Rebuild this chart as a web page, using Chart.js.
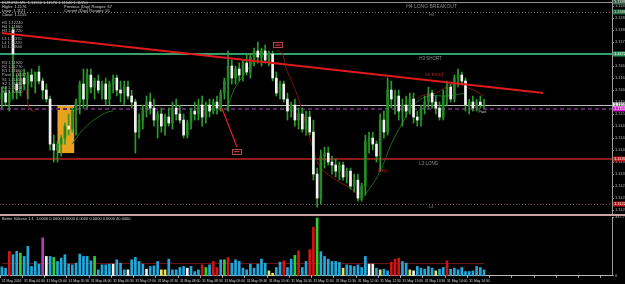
<!DOCTYPE html>
<html>
<head>
<meta charset="utf-8">
<title>EURUSD,M5</title>
<script src="https://cdn.jsdelivr.net/npm/chart.js@4.4.1/dist/chart.umd.min.js"></script>
<style>
  html, body { margin: 0; padding: 0; background: #000; }
  #wrap { position: relative; width: 625px; height: 284px; overflow: hidden; background: #000; }
  canvas { position: absolute; left: 0; }
  #priceChart { top: 0; }
  #volumeChart { top: 214px; }
</style>
</head>
<body>
<div id="wrap">
  <canvas id="priceChart" width="625" height="214"></canvas>
  <canvas id="volumeChart" width="625" height="70"></canvas>
</div>
<script>
/**
 * EURUSD M5 - candles, pivot levels and Better Volume
 */

// Candles (31 May 2016, M5)
const opens = [
  1.1157, 1.1159, 1.1156, 1.1180, 1.1162, 1.1160, 1.1164, 1.1162, 1.1165, 1.1163,
  1.1166, 1.1163, 1.1160, 1.1157, 1.1142, 1.1140, 1.1142, 1.1144, 1.1148, 1.1147,
  1.1153, 1.1156, 1.1162, 1.1157, 1.1165, 1.1161, 1.1163, 1.1160, 1.1162, 1.1157,
  1.1162, 1.1164, 1.1160, 1.1159, 1.1161, 1.1158, 1.1156, 1.1146, 1.1150, 1.1153,
  1.1156, 1.1154, 1.1150, 1.1152, 1.1148, 1.1151, 1.1149, 1.1154, 1.1152, 1.1150,
  1.1145, 1.1149, 1.1153, 1.1152, 1.1155, 1.1151, 1.1155, 1.1153, 1.1156, 1.1154,
  1.1159, 1.1163, 1.1168, 1.1164, 1.1167, 1.1165, 1.1169, 1.1166, 1.1171, 1.1173,
  1.1171, 1.1173, 1.1170, 1.1172, 1.1164, 1.1159, 1.1162, 1.1157, 1.1153, 1.1155,
  1.1150, 1.1152, 1.1147, 1.1151, 1.1146, 1.1132, 1.1124, 1.1138, 1.1139, 1.1136,
  1.1135, 1.1133, 1.1135, 1.1131, 1.1133, 1.1128, 1.1130, 1.1124, 1.1128, 1.1143,
  1.1144, 1.1142, 1.1138, 1.1150, 1.1146, 1.1160, 1.1157, 1.1158, 1.1153, 1.1155,
  1.1153, 1.1157, 1.1151, 1.1150, 1.1154, 1.1156, 1.1159, 1.1156, 1.1154, 1.1151,
  1.1158, 1.1161, 1.1157, 1.1164, 1.1165, 1.1163, 1.1155, 1.1156, 1.1154, 1.1156, 1.1155
];
const highs = [
  1.1161, 1.1161, 1.1160, 1.1181, 1.1165, 1.1166, 1.1167, 1.1166, 1.1167, 1.1166,
  1.1168, 1.1164, 1.1162, 1.1158, 1.1145, 1.1143, 1.1145, 1.1149, 1.1152, 1.1154,
  1.1157, 1.1163, 1.1167, 1.1167, 1.1167, 1.1164, 1.1165, 1.1163, 1.1164, 1.1163,
  1.1165, 1.1165, 1.1163, 1.1163, 1.1163, 1.1160, 1.1157, 1.1152, 1.1155, 1.1158,
  1.1159, 1.1157, 1.1153, 1.1154, 1.1152, 1.1154, 1.1156, 1.1157, 1.1155, 1.1152,
  1.1150, 1.1154, 1.1156, 1.1157, 1.1158, 1.1156, 1.1157, 1.1157, 1.1158, 1.1160,
  1.1164, 1.1173, 1.1170, 1.1168, 1.1169, 1.1170, 1.1172, 1.1172, 1.1174, 1.1176,
  1.1174, 1.1175, 1.1173, 1.1173, 1.1166, 1.1163, 1.1163, 1.1159, 1.1156, 1.1157,
  1.1154, 1.1154, 1.1153, 1.1153, 1.1150, 1.1134, 1.1140, 1.1141, 1.1141, 1.1138,
  1.1137, 1.1136, 1.1136, 1.1134, 1.1134, 1.1132, 1.1132, 1.1129, 1.1145, 1.1146,
  1.1146, 1.1143, 1.1152, 1.1153, 1.1164, 1.1163, 1.1160, 1.1160, 1.1157, 1.1158,
  1.1159, 1.1159, 1.1153, 1.1155, 1.1158, 1.1161, 1.1160, 1.1158, 1.1156, 1.1160,
  1.1163, 1.1162, 1.1165, 1.1167, 1.1166, 1.1164, 1.1157, 1.1158, 1.1157, 1.1158, 1.1157
];
const lows = [
  1.1154, 1.1155, 1.1153, 1.1157, 1.1157, 1.1158, 1.1160, 1.1157, 1.1161, 1.1159,
  1.1162, 1.1157, 1.1156, 1.1140, 1.1136, 1.1136, 1.1138, 1.1142, 1.1145, 1.1146,
  1.1145, 1.1152, 1.1154, 1.1154, 1.1159, 1.1157, 1.1159, 1.1157, 1.1155, 1.1155,
  1.1159, 1.1158, 1.1156, 1.1155, 1.1157, 1.1154, 1.1139, 1.1144, 1.1147, 1.1151,
  1.1152, 1.1148, 1.1144, 1.1146, 1.1145, 1.1148, 1.1147, 1.1150, 1.1149, 1.1144,
  1.1144, 1.1147, 1.1150, 1.1150, 1.1148, 1.1149, 1.1151, 1.1152, 1.1152, 1.1153,
  1.1157, 1.1153, 1.1162, 1.1162, 1.1163, 1.1163, 1.1165, 1.1164, 1.1168, 1.1169,
  1.1168, 1.1169, 1.1168, 1.1163, 1.1158, 1.1157, 1.1156, 1.1150, 1.1151, 1.1148,
  1.1147, 1.1146, 1.1145, 1.1145, 1.1130, 1.1121, 1.1122, 1.1134, 1.1135, 1.1132,
  1.1131, 1.1130, 1.1130, 1.1129, 1.1127, 1.1126, 1.1123, 1.1123, 1.1125, 1.1139,
  1.1140, 1.1136, 1.1133, 1.1144, 1.1145, 1.1154, 1.1152, 1.1150, 1.1148, 1.1151,
  1.1152, 1.1149, 1.1148, 1.1148, 1.1152, 1.1154, 1.1154, 1.1152, 1.1150, 1.1150,
  1.1155, 1.1156, 1.1156, 1.1161, 1.1162, 1.1153, 1.1152, 1.1153, 1.1153, 1.1154, 1.1154
];
const closes = [
  1.1159, 1.1156, 1.1159, 1.1172, 1.1160, 1.1164, 1.1162, 1.1165, 1.1163, 1.1166,
  1.1163, 1.1160, 1.1157, 1.1142, 1.1140, 1.1142, 1.1144, 1.1148, 1.1147, 1.1153,
  1.1156, 1.1162, 1.1157, 1.1165, 1.1161, 1.1163, 1.1160, 1.1162, 1.1157, 1.1162,
  1.1164, 1.1160, 1.1159, 1.1161, 1.1158, 1.1156, 1.1146, 1.1150, 1.1153, 1.1156,
  1.1154, 1.1150, 1.1152, 1.1148, 1.1151, 1.1149, 1.1154, 1.1152, 1.1150, 1.1145,
  1.1149, 1.1153, 1.1152, 1.1155, 1.1151, 1.1155, 1.1153, 1.1156, 1.1154, 1.1159,
  1.1163, 1.1168, 1.1164, 1.1167, 1.1165, 1.1169, 1.1166, 1.1171, 1.1173, 1.1171,
  1.1173, 1.1170, 1.1172, 1.1164, 1.1159, 1.1162, 1.1157, 1.1153, 1.1155, 1.1150,
  1.1152, 1.1147, 1.1151, 1.1146, 1.1132, 1.1124, 1.1138, 1.1139, 1.1136, 1.1135,
  1.1133, 1.1135, 1.1131, 1.1133, 1.1128, 1.1130, 1.1124, 1.1128, 1.1143, 1.1144,
  1.1142, 1.1138, 1.1150, 1.1146, 1.1160, 1.1157, 1.1158, 1.1153, 1.1155, 1.1153,
  1.1157, 1.1151, 1.1150, 1.1154, 1.1156, 1.1159, 1.1156, 1.1154, 1.1151, 1.1158,
  1.1161, 1.1157, 1.1164, 1.1165, 1.1163, 1.1155, 1.1156, 1.1154, 1.1156, 1.1155, 1.1155
];

// Better Volume bars and their colour class (b blue, r red, g green, w white, y yellow, m magenta)
const volumes = [
  54, 46, 146, 126, 146, 136, 116, 176, 56, 86,
  70, 226, 116, 116, 110, 86, 106, 126, 70, 66,
  76, 130, 116, 116, 90, 116, 36, 66, 66, 70,
  70, 96, 76, 36, 36, 96, 110, 86, 70, 40,
  56, 60, 86, 36, 36, 100, 36, 36, 50, 56,
  46, 56, 26, 36, 66, 50, 66, 86, 50, 96,
  96, 110, 76, 96, 86, 46, 36, 70, 46, 70,
  100, 76, 30, 16, 50, 82, 90, 50, 100, 122,
  150, 50, 86, 156, 290, 344, 144, 116, 100, 86,
  86, 80, 46, 66, 62, 56, 66, 50, 116, 70,
  70, 46, 36, 40, 30, 82, 100, 106, 86, 76,
  36, 30, 56, 46, 40, 56, 46, 30, 40, 50,
  90, 40, 46, 36, 50, 26, 26, 30, 56, 50, 36
];
const volumeKinds = ('bbrbbgbbbb bmwbgbbbbb bbbbbgbbbb wbbbwbbbbw bbbyybbbbb wbbbrgbrrb ' +
  'grbbbbbbbb bbyybbrbbg rbbrrgbbbb bbybbbbbbw wbybbrrrbb ywbbbbbybb rbbbbbbbbb b')
  .replace(/ /g, '').split('');
const volumeAverage = 78;
const volumeScaleTop = 347.75;

// Time axis, one label every 6 bars
const timeLabels = [
  '31 May 2016', '31 May 04:30', '31 May 05:00', '31 May 05:30', '31 May 06:00', '31 May 06:30',
  '31 May 07:00', '31 May 07:30', '31 May 08:00', '31 May 08:30', '31 May 09:00', '31 May 09:30',
  '31 May 10:00', '31 May 10:30', '31 May 11:00', '31 May 11:30', '31 May 12:00', '31 May 12:30',
  '31 May 13:00', '31 May 13:30', '31 May 14:00', '31 May 14:30'
];
const LABEL_EVERY = 6;
const SLOT_COUNT = 165;   // bar slots in the window, incl. the empty right margin

// Daily levels
const levelTop = 1.11893;
const levelH4 = 1.1186;
const levelH3 = 1.1172;
const levelPivot = 1.11537;
const levelL3 = 1.1137;
const levelL4 = 1.1122;

// Drawn objects (bar index, price)
const trendLine = [{ x: 0, y: 1.1179 }, { x: 146, y: 1.1159 }];
const maRed = [
  { x: 3, y: 1.1168 }, { x: 6, y: 1.1162 }, { x: 9, y: 1.1153 },
  { x: 74, y: 1.1173 }, { x: 77, y: 1.1166 }, { x: 80, y: 1.1157 }, { x: 84, y: 1.1140 },
  { x: 86, y: 1.1134 }, { x: 89, y: 1.1131 }, { x: 93, y: 1.1128 }, { x: 97, y: 1.1126 },
  { x: 112, y: 1.1157 }, { x: 117, y: 1.1159 }, { x: 122, y: 1.1162 }, { x: 127, y: 1.1160 }, { x: 130, y: 1.1158 }
];
const maGreen = [
  { x: 19, y: 1.1142 }, { x: 22, y: 1.1147 }, { x: 26, y: 1.1151 }, { x: 30, y: 1.1153 },
  { x: 59, y: 1.1153 }, { x: 63, y: 1.1161 }, { x: 67, y: 1.1168 }, { x: 71, y: 1.1173 },
  { x: 96, y: 1.1124 }, { x: 99, y: 1.1127 }, { x: 102, y: 1.1133 }, { x: 105, y: 1.1142 },
  { x: 108, y: 1.1149 }, { x: 111, y: 1.1155 }, { x: 115, y: 1.1158 }, { x: 120, y: 1.1158 }, { x: 125, y: 1.1159 }
];
const breakoutBox = { from: 15, to: 19, top: 1.1155, bottom: 1.1139 };
const signalLine = { from: { x: 59.3, y: 1.1154 }, to: { x: 63.4, y: 1.1141 } };
const signalBoxes = [{ x: 74.4, y: 1.1175 }, { x: 63.4, y: 1.11395 }];

const COLORS = {
  bull: '#238a23',
  bear: '#f2f2f2',
  wick: '#2c9c2c',
  trend: '#e01a1a',
  maRed: '#7a1616',
  maGreen: '#1c6a1c',
  box: '#e8a21e',
  text: '#bdbdbd',
  vol: { b: '#22a9dc', r: '#d41414', g: '#2fcf2f', w: '#f4f4f4', y: '#e6e05a', m: '#b63ab6' }
};
const FONT = '"Liberation Sans", Arial, sans-serif';
Chart.defaults.font.family = FONT;

const slots = Array.from({ length: SLOT_COUNT }, (_, i) => i);
const lastClose = closes[closes.length - 1];

function text(ctx, str, x, y, size, color, baseline) {
    ctx.font = size + 'px ' + FONT;
    ctx.fillStyle = color;
    ctx.textBaseline = baseline || 'top';
    ctx.textAlign = 'left';
    ctx.fillText(str, x, y);
}

function hLine(ctx, a, y, color, width, dash) {
    ctx.save();
    ctx.strokeStyle = color;
    ctx.lineWidth = width;
    ctx.setLineDash(dash || []);
    ctx.beginPath();
    const yy = width % 2 ? Math.round(y) + 0.5 : Math.round(y);
    ctx.moveTo(a.left, yy);
    ctx.lineTo(a.right, yy);
    ctx.stroke();
    ctx.restore();
}

const priceOverlay = {
    id: 'priceOverlay',
    beforeDatasetsDraw(chart) {
        const { ctx, chartArea: a, scales: { x, y } } = chart;
        const half = (x.getPixelForValue(1) - x.getPixelForValue(0)) / 2;
        ctx.save();
        ctx.fillStyle = COLORS.box;
        const bx = x.getPixelForValue(breakoutBox.from);
        const by = y.getPixelForValue(breakoutBox.top);
        ctx.fillRect(bx, by, x.getPixelForValue(breakoutBox.to) + half - bx, y.getPixelForValue(breakoutBox.bottom) - by);
        ctx.restore();

        hLine(ctx, a, y.getPixelForValue(levelTop), '#8f8f8f', 1);
        hLine(ctx, a, y.getPixelForValue(levelH4), '#7a7a7a', 1, [1, 2]);
        hLine(ctx, a, y.getPixelForValue(levelH3), '#34a36b', 2);
        hLine(ctx, a, y.getPixelForValue(lastClose), '#bdbdbd', 1);
        hLine(ctx, a, y.getPixelForValue(levelPivot), '#5e2468', 2, [4, 3]);
        hLine(ctx, a, y.getPixelForValue(levelL3), '#8c1a1a', 2);
        hLine(ctx, a, y.getPixelForValue(levelL4), '#7a5656', 1, [1, 2]);
    },
    afterDatasetsDraw(chart) {
        const { ctx, scales: { x, y } } = chart;
        ctx.save();

        // info block, top left
        text(ctx, 'EURUSD,M5  1.11550 1.11570 1.11540 1.11550', 2, 1, 4, '#cfcfcf');
        text(ctx, 'Highs: 1.1176', 2, 5, 4, '#cfcfcf');
        text(ctx, 'Previous (Day) Ranges: 67', 64, 5, 4, '#cfcfcf');
        text(ctx, 'Lows: 1.1121', 2, 9, 4, '#cfcfcf');
        text(ctx, 'Current (Day) Ranges: 55', 64, 9, 4, '#cfcfcf');
        text(ctx, 'Close: 1.1155', 2, 13, 4, '#cfcfcf');
        const camarilla = [['H5 1.12240', 21], ['H4 1.11860', 25], ['H3 1.11720', 29],
                           ['L3 1.11370', 37], ['L4 1.11220', 41], ['L5 1.10840', 45]];
        camarilla.forEach(([s, yy]) => text(ctx, s, 2, yy, 4, '#b8b8b8'));
        const pivots = [['R3 1.11920', 61], ['R2 1.11770', 65], ['R1 1.11660', 69], ['Pivot 1.11537', 73],
                        ['S1 1.11410', 78], ['S2 1.11300', 82], ['S3 1.11150', 86], ['S4 1.10900', 90]];
        pivots.forEach(([s, yy]) => text(ctx, s, 2, yy, 4, '#b8b8b8'));

        // level captions
        text(ctx, 'H4 LONG BREAKOUT', x.getPixelForValue(109), y.getPixelForValue(levelH4) - 3, 5, '#8c8c8c', 'bottom');
        text(ctx, ':H4', x.getPixelForValue(115), y.getPixelForValue(levelH4) + 1, 3.5, '#8c8c8c');
        text(ctx, 'H3 SHORT', x.getPixelForValue(112.5), y.getPixelForValue(levelH3) + 2, 4.5, '#8c8c8c');
        text(ctx, 'no trend', x.getPixelForValue(114), y.getPixelForValue(1.1165), 5, '#b42020', 'middle');
        text(ctx, 'L3 LONG', x.getPixelForValue(112.5), y.getPixelForValue(levelL3) + 2, 4.5, '#8c8c8c');
        text(ctx, ':L4', x.getPixelForValue(115), y.getPixelForValue(levelL4) + 1, 3.5, '#8c8c8c');
        text(ctx, 'Pivot', x.getPixelForValue(128.5), y.getPixelForValue(levelPivot) + 1, 3.5, '#c8c8c8');
        text(ctx, 'long', x.getPixelForValue(101.5), y.getPixelForValue(1.1133), 4.5, '#c42424', 'middle');

        // signal arrow and boxes
        ctx.strokeStyle = '#e02020';
        ctx.lineWidth = 1.2;
        ctx.beginPath();
        ctx.moveTo(x.getPixelForValue(signalLine.from.x), y.getPixelForValue(signalLine.from.y));
        ctx.lineTo(x.getPixelForValue(signalLine.to.x), y.getPixelForValue(signalLine.to.y));
        ctx.stroke();
        signalBoxes.forEach(b => {
            const cx = x.getPixelForValue(b.x), cy = y.getPixelForValue(b.y);
            ctx.fillStyle = '#1c0606';
            ctx.fillRect(cx - 5, cy - 3, 10, 6);
            ctx.strokeStyle = '#b04848';
            ctx.lineWidth = 1;
            ctx.strokeRect(Math.round(cx - 5) + 0.5, Math.round(cy - 3) + 0.5, 9, 5);
            ctx.fillStyle = '#d04040';
            ctx.fillRect(cx - 2.5, cy - 0.5, 5, 1);
        });
        ctx.restore();
    },
    afterDraw(chart) {
        const { ctx, chartArea: a, scales: { y } } = chart;
        const tags = [
            { p: levelTop, bg: '#3a5e48', fg: '#e0e0e0' },
            { p: levelH4, bg: '#1f6a3c', fg: '#e0e0e0' },
            { p: levelH3, bg: '#2f9a5e', fg: '#ffffff' },
            { p: lastClose, bg: '#e8e8e8', fg: '#000000' },
            { p: levelPivot, bg: '#d21ed2', fg: '#ffffff' },
            { p: levelL3, bg: '#c41a1a', fg: '#ffffff' },
            { p: levelL4, bg: '#b81818', fg: '#ffffff' }
        ];
        ctx.save();
        tags.forEach(t => {
            const cy = y.getPixelForValue(t.p);
            ctx.fillStyle = t.bg;
            ctx.fillRect(a.right + 1, cy - 2.5, chart.width - a.right, 5);
            text(ctx, t.p.toFixed(5), a.right + 2, cy, 4, t.fg, 'middle');
        });
        ctx.restore();
    }
};

const volumeOverlay = {
    id: 'volumeOverlay',
    beforeDatasetsDraw(chart) {
        const { ctx, scales: { x, y } } = chart;
        ctx.save();
        ctx.strokeStyle = '#6a1616';
        ctx.lineWidth = 1;
        const yy = Math.round(y.getPixelForValue(volumeAverage)) + 0.5;
        ctx.beginPath();
        ctx.moveTo(x.getPixelForValue(0), yy);
        ctx.lineTo(x.getPixelForValue(volumes.length - 1), yy);
        ctx.stroke();
        ctx.restore();
    },
    afterDraw(chart) {
        const { ctx } = chart;
        ctx.save();
        ctx.fillStyle = '#c9a3a3';
        ctx.fillRect(0, 0, chart.width, 2);
        text(ctx, 'Better Volume 1.1  1.0000 0.0000 0.0000 0.0000 0.0000 0.0000 40.0000', 2, 3, 4, '#cfcfcf');
        ctx.restore();
    }
};

function fixWidth(scale) {
    scale.width = 13;
    scale.paddingTop = 0;
    scale.paddingBottom = 0;
}

function createPriceChart() {
    const el = document.getElementById('priceChart');
    return new Chart(el, {
        type: 'bar',
        data: {
            labels: slots,
            datasets: [
                { type: 'line', data: trendLine, borderColor: COLORS.trend, borderWidth: 2, pointRadius: 0, spanGaps: true, order: 0 },
                { data: opens.map((o, i) => [o, closes[i]]), backgroundColor: opens.map((o, i) => closes[i] >= o ? COLORS.bull : COLORS.bear),
                  barThickness: 2, minBarLength: 1, grouped: false, order: 1 },
                { data: lows.map((l, i) => [l, highs[i]]), backgroundColor: COLORS.wick, barThickness: 1, grouped: false, order: 2 },
                { type: 'line', data: maRed, borderColor: COLORS.maRed, borderWidth: 1, pointRadius: 0, spanGaps: 6, tension: 0.4, order: 3 },
                { type: 'line', data: maGreen, borderColor: COLORS.maGreen, borderWidth: 1, pointRadius: 0, spanGaps: 6, tension: 0.4, order: 3 }
            ]
        },
        options: {
            responsive: false,
            animation: false,
            events: [],
            layout: { padding: 0 },
            plugins: { legend: { display: false }, tooltip: { enabled: false } },
            scales: {
                x: { display: false, offset: true },
                y: {
                    position: 'right',
                    min: 1.11187,
                    max: 1.1190,
                    afterFit: fixWidth,
                    grid: { drawOnChartArea: false, tickLength: 2, color: '#8a8a8a' },
                    border: { display: true, color: '#9a9a9a', dash: [1, 1] },
                    ticks: { stepSize: 0.0004, includeBounds: false, padding: 1, color: '#bcbcbc', font: { size: 4 },
                             callback: v => v.toFixed(5) }
                }
            }
        },
        plugins: [priceOverlay]
    });
}

function createVolumeChart() {
    const el = document.getElementById('volumeChart');
    return new Chart(el, {
        type: 'bar',
        data: {
            labels: slots,
            datasets: [{
                data: volumes,
                backgroundColor: volumeKinds.map(k => COLORS.vol[k]),
                barThickness: 2
            }]
        },
        options: {
            responsive: false,
            animation: false,
            events: [],
            layout: { padding: { top: 3 } },
            plugins: { legend: { display: false }, tooltip: { enabled: false } },
            scales: {
                x: {
                    offset: true,
                    afterFit: s => { s.paddingLeft = 0; s.paddingRight = 0; },
                    grid: { drawOnChartArea: false, tickLength: 2,
                            color: c => c.index % LABEL_EVERY === 0 ? '#a0a0a0' : 'rgba(0,0,0,0)' },
                    border: { display: true, color: '#b8b8b8' },
                    ticks: {
                        autoSkip: false, maxRotation: 0, minRotation: 0, align: 'start', padding: 1,
                        color: '#d6d6d6', font: { size: 3.4 },
                        callback: (v, i) => (i % LABEL_EVERY === 0 && timeLabels[i / LABEL_EVERY]) ? timeLabels[i / LABEL_EVERY] : ''
                    }
                },
                y: {
                    position: 'right',
                    min: 0,
                    max: 350,
                    afterFit: fixWidth,
                    afterBuildTicks: s => { s.ticks = [{ value: 0 }, { value: volumeScaleTop }]; },
                    grid: { drawOnChartArea: false, tickLength: 2, color: '#8a8a8a' },
                    border: { display: true, color: '#9a9a9a', dash: [1, 1] },
                    ticks: { padding: 1, color: '#bcbcbc', font: { size: 4 },
                             callback: v => v === 0 ? '0' : v.toFixed(2) }
                }
            }
        },
        plugins: [volumeOverlay]
    });
}

createPriceChart();
createVolumeChart();
</script>
</body>
</html>
